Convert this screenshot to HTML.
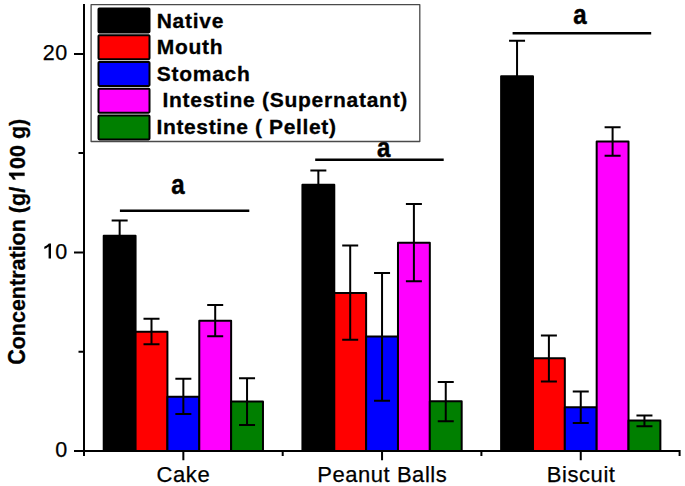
<!DOCTYPE html>
<html><head><meta charset="utf-8"><style>
html,body{margin:0;padding:0;background:#fff;}
svg{display:block;}
text{font-family:"Liberation Sans",sans-serif;fill:#000;}
.a{font-weight:bold;font-size:27px;text-anchor:middle;stroke:#000;stroke-width:0.5px;}
.lg{font-weight:bold;font-size:21px;letter-spacing:0.74px;stroke:#000;stroke-width:0.3px;}
.tk{font-size:21.5px;letter-spacing:0.7px;stroke:#000;stroke-width:0.25px;}
.xl{font-size:22px;letter-spacing:0.55px;stroke:#000;stroke-width:0.25px;}
.yt{font-weight:bold;font-size:21.5px;stroke:#000;stroke-width:0.3px;}
</style></head><body>
<svg width="685" height="486" viewBox="0 0 685 486">
<rect x="103.72" y="235.70" width="31.85" height="215.30" fill="#000000" stroke="#000" stroke-width="2.0" stroke-linejoin="round"/>
<rect x="135.57" y="331.80" width="31.85" height="119.20" fill="#ff0000" stroke="#000" stroke-width="2.0" stroke-linejoin="round"/>
<rect x="167.42" y="396.80" width="31.85" height="54.20" fill="#0000ff" stroke="#000" stroke-width="2.0" stroke-linejoin="round"/>
<rect x="199.28" y="320.70" width="31.85" height="130.30" fill="#ff00ff" stroke="#000" stroke-width="2.0" stroke-linejoin="round"/>
<rect x="231.12" y="401.40" width="31.85" height="49.60" fill="#007f00" stroke="#000" stroke-width="2.0" stroke-linejoin="round"/>
<rect x="302.43" y="184.75" width="31.85" height="266.25" fill="#000000" stroke="#000" stroke-width="2.0" stroke-linejoin="round"/>
<rect x="334.27" y="293.00" width="31.85" height="158.00" fill="#ff0000" stroke="#000" stroke-width="2.0" stroke-linejoin="round"/>
<rect x="366.12" y="336.50" width="31.85" height="114.50" fill="#0000ff" stroke="#000" stroke-width="2.0" stroke-linejoin="round"/>
<rect x="397.98" y="242.85" width="31.85" height="208.15" fill="#ff00ff" stroke="#000" stroke-width="2.0" stroke-linejoin="round"/>
<rect x="429.83" y="401.20" width="31.85" height="49.80" fill="#007f00" stroke="#000" stroke-width="2.0" stroke-linejoin="round"/>
<rect x="501.12" y="76.20" width="31.85" height="374.80" fill="#000000" stroke="#000" stroke-width="2.0" stroke-linejoin="round"/>
<rect x="532.98" y="358.20" width="31.85" height="92.80" fill="#ff0000" stroke="#000" stroke-width="2.0" stroke-linejoin="round"/>
<rect x="564.83" y="407.20" width="31.85" height="43.80" fill="#0000ff" stroke="#000" stroke-width="2.0" stroke-linejoin="round"/>
<rect x="596.67" y="141.40" width="31.85" height="309.60" fill="#ff00ff" stroke="#000" stroke-width="2.0" stroke-linejoin="round"/>
<rect x="628.52" y="420.60" width="31.85" height="30.40" fill="#007f00" stroke="#000" stroke-width="2.0" stroke-linejoin="round"/>
<path d="M119.65 220.60V248.80M111.65 220.60H127.65M111.65 248.80H127.65" stroke="#000" stroke-width="2.0" fill="none"/>
<path d="M151.50 318.70V344.30M143.50 318.70H159.50M143.50 344.30H159.50" stroke="#000" stroke-width="2.0" fill="none"/>
<path d="M183.35 378.80V414.00M175.35 378.80H191.35M175.35 414.00H191.35" stroke="#000" stroke-width="2.0" fill="none"/>
<path d="M215.20 305.00V336.30M207.20 305.00H223.20M207.20 336.30H223.20" stroke="#000" stroke-width="2.0" fill="none"/>
<path d="M247.05 378.20V425.00M239.05 378.20H255.05M239.05 425.00H255.05" stroke="#000" stroke-width="2.0" fill="none"/>
<path d="M318.35 170.40V197.10M310.35 170.40H326.35M310.35 197.10H326.35" stroke="#000" stroke-width="2.0" fill="none"/>
<path d="M350.20 245.60V339.80M342.20 245.60H358.20M342.20 339.80H358.20" stroke="#000" stroke-width="2.0" fill="none"/>
<path d="M382.05 273.00V400.70M374.05 273.00H390.05M374.05 400.70H390.05" stroke="#000" stroke-width="2.0" fill="none"/>
<path d="M413.90 204.00V281.30M405.90 204.00H421.90M405.90 281.30H421.90" stroke="#000" stroke-width="2.0" fill="none"/>
<path d="M445.75 381.90V421.30M437.75 381.90H453.75M437.75 421.30H453.75" stroke="#000" stroke-width="2.0" fill="none"/>
<path d="M517.05 40.70V109.70M509.05 40.70H525.05M509.05 109.70H525.05" stroke="#000" stroke-width="2.0" fill="none"/>
<path d="M548.90 335.60V381.60M540.90 335.60H556.90M540.90 381.60H556.90" stroke="#000" stroke-width="2.0" fill="none"/>
<path d="M580.75 391.40V422.90M572.75 391.40H588.75M572.75 422.90H588.75" stroke="#000" stroke-width="2.0" fill="none"/>
<path d="M612.60 127.20V155.70M604.60 127.20H620.60M604.60 155.70H620.60" stroke="#000" stroke-width="2.0" fill="none"/>
<path d="M644.45 415.40V426.20M636.45 415.40H652.45M636.45 426.20H652.45" stroke="#000" stroke-width="2.0" fill="none"/>

<path d="M84 4V456M74 54H84M78.5 153.1H84M74 252.4H84M78.5 351.7H84M74 451H84" stroke="#000" stroke-width="2" fill="none"/>
<path d="M83 451H680.6M84 451V456M282.7 451V456M481.4 451V456M679.6 451V456M183.35 451V460.3M382.05 451V460.3M580.75 451V460.3" stroke="#000" stroke-width="2" fill="none"/>


<path d="M119.9 210.7H249.3M315.2 159.7H443.7M512.6 33.3H651.2" stroke="#000" stroke-width="2.4" fill="none"/>
<text transform="translate(177.86 194.3) scale(0.89 1)" class="a">a</text>
<text transform="translate(383.8 156.7) scale(0.89 1)" class="a">a</text>
<text transform="translate(579.95 24.0) scale(0.89 1)" class="a">a</text>

<rect x="91.1" y="4.7" width="328.7" height="136.8" fill="#fff" stroke="#4a4a4a" stroke-width="1.3" stroke-linejoin="round"/>
<rect x="98.5" y="8.40" width="51" height="24.0" rx="0.8" fill="#000000" stroke="#000" stroke-width="2"/>
<text x="156.7" y="27.60" class="lg">Native</text>
<rect x="98.5" y="35.15" width="51" height="24.0" rx="0.8" fill="#ff0000" stroke="#000" stroke-width="2"/>
<text x="156.7" y="54.20" class="lg">Mouth</text>
<rect x="98.5" y="61.90" width="51" height="24.0" rx="0.8" fill="#0000ff" stroke="#000" stroke-width="2"/>
<text x="156.7" y="80.80" class="lg">Stomach</text>
<rect x="98.5" y="88.65" width="51" height="24.0" rx="0.8" fill="#ff00ff" stroke="#000" stroke-width="2"/>
<text x="162.4" y="107.40" class="lg">Intestine (Supernatant)</text>
<rect x="98.5" y="115.40" width="51" height="24.0" rx="0.8" fill="#007f00" stroke="#000" stroke-width="2"/>
<text x="156.5" y="134.00" class="lg" style="letter-spacing:0.63px">Intestine ( Pellet)</text>

<text x="68.0" y="60.2" class="tk" text-anchor="end">20</text>
<text x="68.0" y="258.6" class="tk" text-anchor="end">0</text>
<path d="M51.0 243.4V258.4H48.6V246.6Q46.8 248.3 44.3 249.0V246.8Q47.3 245.4 48.9 243.4Z" fill="#000"/>
<text x="68.0" y="457.3" class="tk" text-anchor="end">0</text>
<text x="183.4" y="482.4" class="xl" text-anchor="middle">Cake</text>
<text x="382.25" y="482.4" class="xl" text-anchor="middle">Peanut Balls</text>
<text x="581.2" y="482.4" class="xl" text-anchor="middle">Biscuit</text>
<text transform="translate(24.5 364.84) rotate(-90) scale(1 1.1)" class="yt">C</text>
<text transform="translate(24.5 349.31) rotate(-90)" class="yt">oncentration (g/  00 g)</text>
<path d="M24.5 172.84V175.73H13.44Q14.92 177.31 15.63 179.48H12.96Q12.59 178.34 11.55 177.01Q10.51 175.68 9.11 175.18V172.84Z" fill="#000" stroke="#000" stroke-width="0.3"/>

</svg>
</body></html>
